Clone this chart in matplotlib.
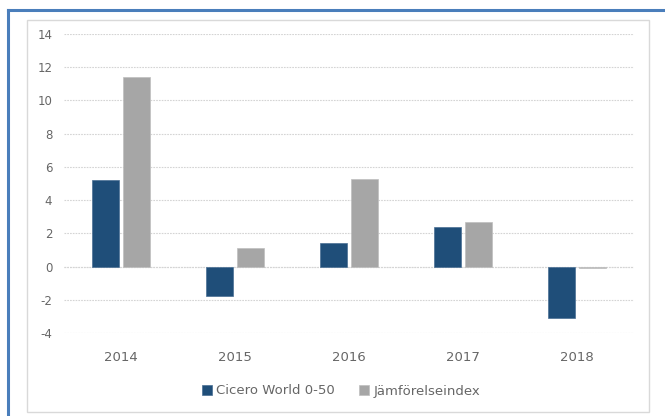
import matplotlib
matplotlib.use("Agg")
import matplotlib.pyplot as plt
from matplotlib.patches import Rectangle
from matplotlib.lines import Line2D
import numpy as np

years = ["2014", "2015", "2016", "2017", "2018"]
cicero = [5.2, -1.8, 1.4, 2.4, -3.1]
jamfor = [11.4, 1.1, 5.3, 2.7, -0.1]
series_names = ["Cicero World 0-50", "Jämförelseindex"]
yticks = [-4, -2, 0, 2, 4, 6, 8, 10, 12, 14]

plt.rcParams['font.family'] = ['DejaVu Sans']
W, H = 665, 416
fig = plt.figure(figsize=(W/100, H/100), dpi=100)
fig.patch.set_facecolor('white')

# outer blue border (left + top)
fig.add_artist(Line2D([8/W, 8/W], [0, 1 - 10/H], color='#4a7ebb', lw=2.2, transform=fig.transFigure))
fig.add_artist(Line2D([8/W, 1], [1 - 10/H, 1 - 10/H], color='#4a7ebb', lw=2.2, transform=fig.transFigure))
# inner gray chart box
fig.add_artist(Rectangle((27/W, 1 - 412/H), (649-27)/W, (412-20)/H, fill=False,
                         edgecolor='#d9d9d9', lw=1.0, transform=fig.transFigure))

left, right, top, bottom = 64, 634, 34, 333
ax = fig.add_axes([left/W, 1 - bottom/H, (right-left)/W, (bottom-top)/H])
x = np.arange(len(years))
bw = 0.23
off = 0.136
ax.bar(x - off, cicero, bw, color='#1f4e79', edgecolor='#4a6f94', lw=0.5, zorder=3, label=series_names[0])
ax.bar(x + off, jamfor, bw, color='#a6a6a6', edgecolor='#bfbfbf', lw=0.5, zorder=3, label=series_names[1])
ax.set_xlim(-0.5, len(years) - 0.5)
ax.set_ylim(-4, 14)
ax.set_yticks(yticks)
ax.set_yticklabels([str(v) for v in yticks])
ax.set_xticks(x)
ax.set_xticklabels(years)
for s in ax.spines.values():
    s.set_visible(False)
ax.grid(axis='y', color='#d4d4d4', lw=0.8, ls=(0, (1.5, 1)), zorder=0)
ax.axhline(0, color='#d4d4d4', lw=0.8, ls=(0, (1.5, 1)), zorder=1)
ax.tick_params(axis='y', length=0, pad=8.5, labelsize=8.5, labelcolor='#666666')
ax.tick_params(axis='x', length=0, pad=13, labelsize=9.5, labelcolor='#666666')

leg = fig.legend(loc='center', bbox_to_anchor=(341/W, 1 - 391/H), ncol=2, frameon=False,
                 fontsize=9.5, handlelength=0.8, handleheight=0.8, handletextpad=0.3,
                 columnspacing=1.8, labelcolor='#666666')
fig.savefig('out.png', dpi=100, facecolor='white')
